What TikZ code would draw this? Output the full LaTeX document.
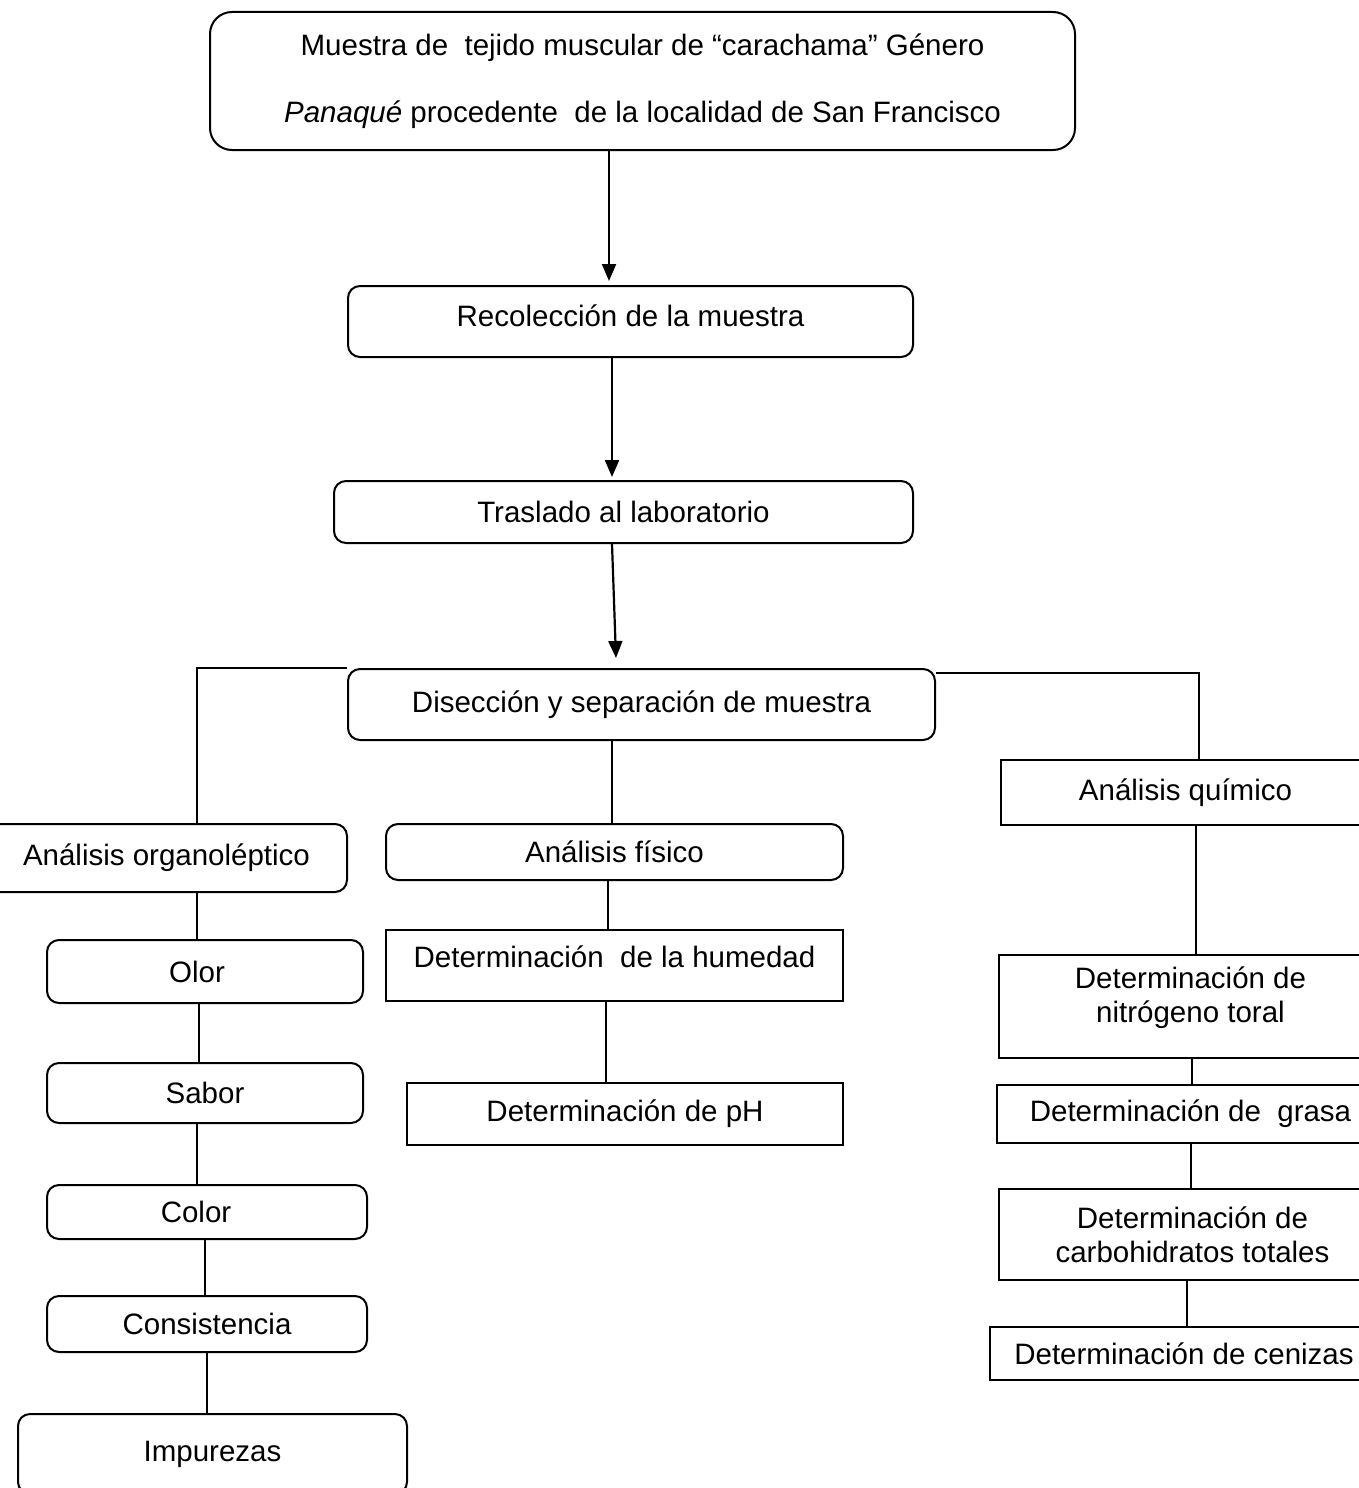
\documentclass[tikz,border=0pt]{standalone}
\usepackage{fontspec}
\setmainfont{Liberation Sans}
\usetikzlibrary{arrows.meta}
\begin{document}
\begin{tikzpicture}[x=1pt,y=-1pt,
  every node/.style={font=\fontsize{29.5}{34}\selectfont, inner sep=0pt, align=center},
  rbox/.style={draw, line width=2pt, rounded corners=12pt},
  sbox/.style={draw, line width=2pt},
  link/.style={line width=2pt},
  arr/.style={line width=2.2pt, -{Triangle[length=17pt,width=14pt]}}]
\clip (0,0) rectangle (1359,1488);
\fill[white] (0,0) rectangle (1359,1488);
% main column
\node[rbox, rounded corners=22pt, minimum width=865pt, minimum height=138pt,
  font=\fontsize{29.5}{67}\selectfont] (top) at (642.5,81)
  {Muestra de\ \ tejido muscular de “carachama” Género\\
   \textit{Panaqué} procedente\ \ de la localidad de San Francisco};
\node[rbox, minimum width=565pt, minimum height=71pt, text depth=12pt] (rec) at (630.5,321.5) {Recolección de la muestra};
\node[rbox, minimum width=579pt, minimum height=62pt] (tras) at (623.5,512) {Traslado al laboratorio};
\node[rbox, minimum width=587pt, minimum height=71pt] (dis) at (641.5,704.5) {Disección y separación de muestra};
% left column
\node[rbox, minimum width=377pt, minimum height=68pt] (org) at (158.5,858) {\hspace*{16pt}Análisis organoléptico};
\node[rbox, minimum width=316pt, minimum height=63pt] (olor) at (205,971.5) {\hspace*{-16pt}Olor};
\node[rbox, minimum width=316pt, minimum height=60pt] (sabor) at (205,1093) {Sabor};
\node[rbox, minimum width=320pt, minimum height=54pt] (color) at (207,1212) {\hspace*{-22pt}Color};
\node[rbox, minimum width=320pt, minimum height=56pt] (cons) at (207,1324) {Consistencia};
\node[rbox, minimum width=389pt, minimum height=80pt] (imp) at (212.5,1454) {Impurezas};
% middle column
\node[rbox, minimum width=457pt, minimum height=56pt] (fis) at (614.5,852) {Análisis físico};
\node[sbox, minimum width=457pt, minimum height=71pt, text depth=18pt] (hum) at (614.5,965.5) {Determinación\ \ de la humedad};
\node[sbox, minimum width=436pt, minimum height=62pt] (ph) at (625,1114) {Determinación de pH};
% right column
\node[sbox, minimum width=369pt, minimum height=65pt] (quim) at (1185.5,792.5) {Análisis químico};
\node[sbox, minimum width=371pt, minimum height=103pt, text depth=24pt] (nit) at (1184.5,1006.5) {\hspace*{12pt}Determinación de\\\hspace*{12pt}nitrógeno toral};
\node[sbox, minimum width=373pt, minimum height=58pt] (grasa) at (1183.5,1114) {\hspace*{14pt}Determinación de\ \ grasa};
\node[sbox, minimum width=371pt, minimum height=91pt] (carb) at (1184.5,1234.5) {\hspace*{16pt}Determinación de\\\hspace*{16pt}carbohidratos totales};
\node[sbox, minimum width=380pt, minimum height=53pt] (cen) at (1180,1353.5) {\hspace*{8pt}Determinación de cenizas};
% helper coordinates
\coordinate (a1) at (609,0);
\coordinate (a2) at (612,0);
\coordinate (a3) at (612,0);
\coordinate (a3e) at (616,658);
\coordinate (lj) at (197,668);
\coordinate (rj) at (1199,673);
\coordinate (xm) at (612,0);
\coordinate (l1) at (197,0);
\coordinate (l2) at (199,0);
\coordinate (l3) at (197,0);
\coordinate (l4) at (205,0);
\coordinate (l5) at (207,0);
\coordinate (m1) at (608,0);
\coordinate (m2) at (606,0);
\coordinate (r1) at (1196,0);
\coordinate (r2) at (1192,0);
\coordinate (r3) at (1191,0);
\coordinate (r4) at (1187,0);
% arrows
\draw[arr] (top.south -| a1) -- ([yshift=4pt]rec.north -| a1);
\draw[arr] (rec.south -| a2) -- ([yshift=3pt]tras.north -| a2);
\draw[arr] (tras.south -| a3) -- (a3e);
% branches
\draw[link] (dis.west |- lj) -- (lj) -- (org.north -| lj);
\draw[link] (dis.east |- rj) -- (rj) -- (quim.north -| rj);
\draw[link] (dis.south -| xm) -- (fis.north -| xm);
% left chain
\draw[link] (org.south -| l1) -- (olor.north -| l1);
\draw[link] (olor.south -| l2) -- (sabor.north -| l2);
\draw[link] (sabor.south -| l3) -- (color.north -| l3);
\draw[link] (color.south -| l4) -- (cons.north -| l4);
\draw[link] (cons.south -| l5) -- (imp.north -| l5);
% middle chain
\draw[link] (fis.south -| m1) -- (hum.north -| m1);
\draw[link] (hum.south -| m2) -- (ph.north -| m2);
% right chain
\draw[link] (quim.south -| r1) -- (nit.north -| r1);
\draw[link] (nit.south -| r2) -- (grasa.north -| r2);
\draw[link] (grasa.south -| r3) -- (carb.north -| r3);
\draw[link] (carb.south -| r4) -- (cen.north -| r4);
\end{tikzpicture}
\end{document}
